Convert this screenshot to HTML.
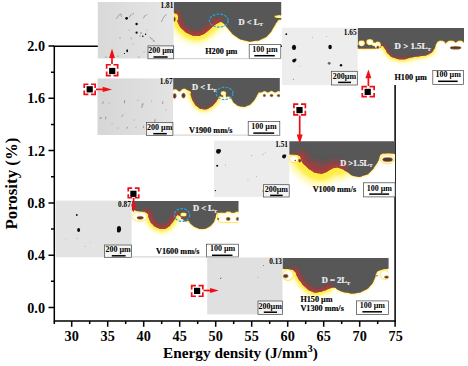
<!DOCTYPE html>
<html><head><meta charset="utf-8">
<style>
html,body{margin:0;padding:0;background:#fff;}
body{width:468px;height:366px;overflow:hidden;}
svg{display:block;}
text{font-family:"Liberation Serif",serif;font-weight:bold;fill:#000;}
.tk{font-size:14.2px;}
.ax{font-size:17.5px;}
.sm{font-size:7.5px;stroke:#000;stroke-width:.15px;}
.wt{font-size:8px;fill:#f2f2f2;stroke:#f2f2f2;stroke-width:.2px;}
</style></head>
<body>
<svg width="468" height="366" viewBox="0 0 468 366">
<defs>
<filter id="b1" filterUnits="userSpaceOnUse" x="0" y="0" width="468" height="366"><feGaussianBlur stdDeviation="1.6"/></filter>
<filter id="b2" filterUnits="userSpaceOnUse" x="0" y="0" width="468" height="366"><feGaussianBlur stdDeviation="1.0"/></filter>
<filter id="b3" filterUnits="userSpaceOnUse" x="0" y="0" width="468" height="366"><feGaussianBlur stdDeviation="0.5"/></filter>
<filter id="b4" filterUnits="userSpaceOnUse" x="0" y="0" width="468" height="366"><feGaussianBlur stdDeviation="2.4"/></filter>
<linearGradient id="gg1" x1="0" x2="1" y1="0" y2="0"><stop offset="0" stop-color="#d9d9d9"/><stop offset="1" stop-color="#e6e6e6"/></linearGradient>
<linearGradient id="gg2" x1="0" x2="1" y1="0" y2="0"><stop offset="0" stop-color="#d6d6d6"/><stop offset="1" stop-color="#e3e3e3"/></linearGradient>
<filter id="glow" filterUnits="userSpaceOnUse" x="0" y="0" width="468" height="366" color-interpolation-filters="sRGB">
<feGaussianBlur in="SourceAlpha" stdDeviation="0.8" result="ba"/>
<feComponentTransfer in="ba" result="oa"><feFuncA type="linear" slope="1.9" intercept="0"/></feComponentTransfer>
<feFlood flood-color="#ffec3d"/><feComposite in2="oa" operator="in" result="yg"/>
<feGaussianBlur in="SourceAlpha" stdDeviation="0.6" result="ba2"/>
<feComponentTransfer in="ba2" result="ia"><feFuncA type="linear" slope="-2.4" intercept="1.9"/></feComponentTransfer>
<feFlood flood-color="#c43a26"/><feComposite in2="ia" operator="in" result="rg0"/>
<feComposite in="rg0" in2="SourceAlpha" operator="in" result="rg"/>
<feMerge><feMergeNode in="yg"/><feMergeNode in="SourceGraphic"/><feMergeNode in="rg"/></feMerge>
</filter>
</defs>
<rect width="468" height="366" fill="#fff"/>

<!-- AXES -->
<g id="axes" stroke="#000" stroke-width="1.5" fill="none">
<path d="M54.3 46V321H395.8"/>
<path d="M53.6 46.2H395.1V321.7"/>
<!-- y major -->
<path d="M48.5 46H54.3M48.5 98.3H54.3M48.5 150.6H54.3M48.5 202.9H54.3M48.5 255.2H54.3M48.5 307.5H54.3"/>
<!-- y minor -->
<path d="M51 72.2H54.3M51 124.5H54.3M51 176.8H54.3M51 229H54.3M51 281.3H54.3"/>
<!-- x major -->
<path d="M71.7 321V326.8M107.7 321V326.8M143.7 321V326.8M179.7 321V326.8M215.7 321V326.8M251.7 321V326.8M287.7 321V326.8M323.7 321V326.8M359.7 321V326.8M395.1 321V326.8"/>
<!-- x minor -->
<path d="M54.3 321V324M89.7 321V324M125.7 321V324M161.7 321V324M197.7 321V324M233.7 321V324M269.7 321V324M305.7 321V324M341.7 321V324M377.7 321V324"/>
</g>
<g class="tk" text-anchor="end">
<text x="45" y="51">2.0</text><text x="45" y="103.3">1.6</text><text x="45" y="155.6">1.2</text><text x="45" y="207.9">0.8</text><text x="45" y="260.2">0.4</text><text x="45" y="312.5">0.0</text>
</g>
<g class="tk" text-anchor="middle">
<text x="71.7" y="341.3">30</text><text x="107.7" y="341.3">35</text><text x="143.7" y="341.3">40</text><text x="179.7" y="341.3">45</text><text x="215.7" y="341.3">50</text><text x="251.7" y="341.3">55</text><text x="287.7" y="341.3">60</text><text x="323.7" y="341.3">65</text><text x="359.7" y="341.3">70</text><text x="395.7" y="341.3">75</text>
</g>
<text class="ax" text-anchor="middle" style="font-size:16.3px" transform="translate(16.6 183.6) rotate(-90) scale(1.035 1)">Porosity (%)</text>
<text class="ax" style="font-size:15.3px" x="163" y="357.6">Energy density (J/mm<tspan dy="-5.5" font-size="10.5">3</tspan><tspan dy="5.5">)</tspan></text>

<clipPath id="c1"><rect x="173.6" y="1.9" width="107.6" height="56.6"/></clipPath>
<mask id="m1" maskUnits="userSpaceOnUse" x="167.6" y="-4.1" width="119.6" height="68.6"><path d="M169.0 12.8C170.5 12.9 171.2 12.1 173.6 13.0C176.0 13.9 174.9 12.5 176.3 15.5C177.7 18.5 175.5 17.2 177.7 21.9C179.9 26.6 179.0 25.6 182.9 29.6C186.8 33.6 185.0 32.0 189.3 34.0C193.6 36.0 191.5 35.5 195.7 35.7C199.9 35.9 197.7 36.5 202.0 34.7C206.3 32.9 204.7 33.2 208.6 30.2C212.5 27.2 210.5 28.1 213.7 25.7C216.9 23.3 215.8 24.1 218.2 22.9C220.6 21.7 218.9 21.8 220.8 22.1C222.7 22.4 221.5 21.5 224.0 23.8C226.5 26.1 224.4 24.7 228.4 29.0C232.4 33.3 230.5 32.8 236.0 36.6C241.5 40.4 239.0 39.0 245.0 40.5C251.0 42.0 248.0 41.7 254.0 41.0C260.0 40.3 257.8 41.0 263.0 38.5C268.2 36.0 266.0 37.0 269.5 33.4C273.0 29.8 271.1 31.2 273.4 27.6C275.7 24.0 274.8 25.0 276.5 22.5C278.2 20.0 277.5 21.0 278.5 20.0C279.5 19.0 278.0 19.7 279.5 19.5C281.0 19.3 281.8 19.5 283.0 19.5L285.2 -2.1L169.6 -2.1Z" fill="#fff"/><ellipse cx="175.6" cy="17.6" rx="2.6" ry="4.2" fill="#000"/><ellipse cx="279.0" cy="16.6" rx="4.6" ry="1.5" fill="#000"/></mask>
<g clip-path="url(#c1)">
<rect x="173.6" y="1.9" width="107.6" height="56.6" fill="#fff"/>
<path d="M176.3 15.5C176.8 17.6 175.5 17.2 177.7 21.9C179.9 26.6 179.0 25.6 182.9 29.6C186.8 33.6 185.0 32.0 189.3 34.0C193.6 36.0 191.5 35.5 195.7 35.7C199.9 35.9 197.7 36.5 202.0 34.7C206.3 32.9 204.7 33.2 208.6 30.2C212.5 27.2 210.5 28.1 213.7 25.7C216.9 23.3 216.7 23.8 218.2 22.9" fill="none" stroke="#fff9a8" stroke-width="16.2" stroke-linecap="round" filter="url(#b4)"/>
<path d="M176.3 15.5C176.8 17.6 175.5 17.2 177.7 21.9C179.9 26.6 179.0 25.6 182.9 29.6C186.8 33.6 185.0 32.0 189.3 34.0C193.6 36.0 191.5 35.5 195.7 35.7C199.9 35.9 197.7 36.5 202.0 34.7C206.3 32.9 204.7 33.2 208.6 30.2C212.5 27.2 210.5 28.1 213.7 25.7C216.9 23.3 216.7 23.8 218.2 22.9" fill="none" stroke="#ffee45" stroke-width="9" stroke-linecap="round" filter="url(#b1)"/>

<g filter="url(#glow)"><rect x="167.6" y="-4.1" width="119.6" height="68.6" fill="#575757" mask="url(#m1)"/></g>
<g mask="url(#m1)">
<path d="M176.3 15.5C176.8 17.6 175.5 17.2 177.7 21.9C179.9 26.6 179.0 25.6 182.9 29.6C186.8 33.6 185.0 32.0 189.3 34.0C193.6 36.0 191.5 35.5 195.7 35.7C199.9 35.9 197.7 36.5 202.0 34.7C206.3 32.9 204.7 33.2 208.6 30.2C212.5 27.2 210.5 28.1 213.7 25.7C216.9 23.3 216.7 23.8 218.2 22.9" fill="none" stroke="#9a4040" stroke-opacity=".8" stroke-width="10.4" stroke-linecap="round" filter="url(#b1)"/>
<path d="M176.3 15.5C176.8 17.6 175.5 17.2 177.7 21.9C179.9 26.6 179.0 25.6 182.9 29.6C186.8 33.6 185.0 32.0 189.3 34.0C193.6 36.0 191.5 35.5 195.7 35.7C199.9 35.9 197.7 36.5 202.0 34.7C206.3 32.9 204.7 33.2 208.6 30.2C212.5 27.2 210.5 28.1 213.7 25.7C216.9 23.3 216.7 23.8 218.2 22.9" fill="none" stroke="#b03a3a" stroke-width="4.4" stroke-linecap="round" filter="url(#b2)"/>

</g>
<ellipse cx="174.2" cy="19.2" rx="1.2" ry="2.2" fill="#4a3a38" stroke="#c9782c" stroke-width=".6"/>

</g>
<rect x="97.8" y="2.0" width="75.9" height="56.5" fill="url(#gg1)"/>
<circle cx="126.6" cy="18.3" r="1.40" fill="#0c0c0c"/>
<circle cx="136.6" cy="24.0" r="1.20" fill="#0c0c0c"/>
<circle cx="136.6" cy="32.7" r="1.10" fill="#0c0c0c"/>
<circle cx="142.8" cy="36.3" r="0.80" fill="#0c0c0c"/>
<circle cx="145.6" cy="34.3" r="0.70" fill="#0c0c0c"/>
<ellipse cx="127.2" cy="50.8" rx="0.90" ry="1.50" fill="#0c0c0c"/>
<circle cx="124.5" cy="53.5" r="0.60" fill="#0c0c0c"/>
<circle cx="141.0" cy="33.0" r="0.50" fill="#0c0c0c"/>
<circle cx="152.0" cy="39.0" r="0.50" fill="#3a3a3a" fill-opacity=".75"/>
<circle cx="154.0" cy="41.0" r="0.50" fill="#3a3a3a" fill-opacity=".75"/>
<circle cx="140.0" cy="36.0" r="0.50" fill="#3a3a3a" fill-opacity=".75"/>
<circle cx="120.0" cy="38.0" r="0.50" fill="#3a3a3a" fill-opacity=".75"/>
<circle cx="139.0" cy="57.0" r="0.50" fill="#3a3a3a" fill-opacity=".75"/>
<circle cx="106.0" cy="57.0" r="0.50" fill="#3a3a3a" fill-opacity=".75"/>
<circle cx="133.0" cy="44.0" r="0.40" fill="#3a3a3a" fill-opacity=".75"/>
<circle cx="147.0" cy="30.0" r="0.40" fill="#3a3a3a" fill-opacity=".75"/>
<circle cx="129.0" cy="30.0" r="0.40" fill="#3a3a3a" fill-opacity=".75"/>
<circle cx="118.0" cy="56.0" r="0.50" fill="#3a3a3a" fill-opacity=".75"/>
<circle cx="144.0" cy="52.0" r="0.40" fill="#3a3a3a" fill-opacity=".75"/>
<path d="M116.5 18.5l1.5 -2.0M118.5 15.5l2.0 -1.5M121.0 14.5l0.5 2.0M129.5 17.0l1.2 -2.0M132.0 14.5l1.6 -1.0M143.5 18.0l1.4 -2.4M146.0 15.5l1.0 -1.0M161.5 21.5l1.0 -2.0M163.0 18.5l1.6 -2.6M165.5 15.5l0.8 -1.0M150.0 37.0l1.0 1.6M153.0 40.0l0.8 1.2M131.0 38.0l0.5 0.8" stroke="#3c3c3c" stroke-opacity=".6" stroke-width=".7" stroke-linecap="round" fill="none"/>
<text text-anchor="end" style="font-size:7.3px" x="173.3" y="7.9">1.81</text>
<rect x="148.0" y="45.9" width="25.7" height="12.9" fill="#f4f4f4" stroke="#444" stroke-width=".7"/>
<text text-anchor="middle" style="font-size:8px" x="160.8" y="53.2">200 µm</text>
<path d="M153.5 57.0H167.6" stroke="#000" stroke-width="1.5"/>
<text class="wt" style="font-size:8.5px" x="238.5" y="24.8">D &lt; L<tspan dy="1.5" font-size="5">T</tspan></text>
<text class="sm" style="font-size:8.2px" x="205.2" y="53.5">H200 µm</text>
<rect x="249.2" y="44.4" width="31.6" height="14.1" fill="#fff" stroke="#444" stroke-width=".7"/>
<text text-anchor="middle" style="font-size:8px" x="265.0" y="52.0">100 µm</text>
<path d="M254.3 55.7H274.8" stroke="#000" stroke-width="1.5"/>
<ellipse cx="218.8" cy="20.6" rx="9.4" ry="6.5" fill="none" stroke="#22a4dc" stroke-width="1.2" stroke-dasharray="2.6 1.3" transform="rotate(0 218.8 20.6)"/>
<clipPath id="c2"><rect x="173.2" y="78.0" width="106.6" height="57.0"/></clipPath>
<mask id="m2" maskUnits="userSpaceOnUse" x="167.2" y="72.0" width="118.6" height="69.0"><path d="M169.0 91.0C170.4 91.0 169.2 90.9 173.2 91.0C177.2 91.1 175.6 91.3 181.0 91.2C186.4 91.1 185.9 89.0 189.3 90.8C192.7 92.6 189.7 92.8 191.2 96.6C192.7 100.4 191.7 98.9 193.8 102.3C195.9 105.7 194.4 104.5 197.6 106.8C200.8 109.1 199.3 109.0 203.4 109.2C207.5 109.4 205.9 109.6 209.8 107.5C213.7 105.4 212.2 106.0 215.0 103.0C217.8 100.0 216.5 100.7 218.2 98.5C219.9 96.3 217.9 96.7 220.0 96.3C222.1 95.9 221.6 97.3 224.6 97.4C227.6 97.5 226.7 95.9 229.0 96.5C231.3 97.1 229.6 96.7 231.6 99.1C233.6 101.5 231.7 101.1 234.9 103.6C238.1 106.1 237.0 105.9 241.3 106.6C245.6 107.3 243.9 107.2 247.7 105.6C251.5 104.0 250.0 104.5 252.8 101.7C255.6 98.9 254.1 100.2 256.0 97.2C257.9 94.2 257.1 94.3 258.6 92.7C260.1 91.1 256.7 92.4 260.5 92.3C264.3 92.2 262.2 92.3 270.0 92.3C277.8 92.3 279.3 92.3 284.0 92.3L283.8 74.0L169.2 74.0Z" fill="#fff"/><ellipse cx="175.2" cy="95.6" rx="4.6" ry="6.6" fill="#000"/><ellipse cx="184.2" cy="95.2" rx="4.8" ry="6.8" fill="#000"/><ellipse cx="223.4" cy="93.3" rx="2.7" ry="2.4" fill="#000"/><ellipse cx="224.6" cy="96.2" rx="1.5" ry="2.6" fill="#000"/><ellipse cx="264.5" cy="96.0" rx="3.6" ry="5.0" fill="#000"/><ellipse cx="271.5" cy="96.0" rx="3.6" ry="5.2" fill="#000"/><ellipse cx="278.5" cy="96.0" rx="3.4" ry="5.0" fill="#000"/></mask>
<g clip-path="url(#c2)">
<rect x="173.2" y="78.0" width="106.6" height="57.0" fill="#fff"/>
<path d="M189.3 90.8C189.9 92.7 189.7 92.8 191.2 96.6C192.7 100.4 191.7 98.9 193.8 102.3C195.9 105.7 194.4 104.5 197.6 106.8C200.8 109.1 199.3 109.0 203.4 109.2C207.5 109.4 205.9 109.6 209.8 107.5C213.7 105.4 212.2 106.0 215.0 103.0C217.8 100.0 217.1 100.0 218.2 98.5" fill="none" stroke="#fff9a8" stroke-width="5.4" stroke-linecap="round" filter="url(#b4)"/>
<path d="M189.3 90.8C189.9 92.7 189.7 92.8 191.2 96.6C192.7 100.4 191.7 98.9 193.8 102.3C195.9 105.7 194.4 104.5 197.6 106.8C200.8 109.1 199.3 109.0 203.4 109.2C207.5 109.4 205.9 109.6 209.8 107.5C213.7 105.4 212.2 106.0 215.0 103.0C217.8 100.0 217.1 100.0 218.2 98.5" fill="none" stroke="#ffee45" stroke-width="3" stroke-linecap="round" filter="url(#b1)"/>

<g filter="url(#glow)"><rect x="167.2" y="72.0" width="118.6" height="69.0" fill="#575757" mask="url(#m2)"/></g>
<g mask="url(#m2)">
<path d="M189.3 90.8C189.9 92.7 189.7 92.8 191.2 96.6C192.7 100.4 191.7 98.9 193.8 102.3C195.9 105.7 194.4 104.5 197.6 106.8C200.8 109.1 199.3 109.0 203.4 109.2C207.5 109.4 205.9 109.6 209.8 107.5C213.7 105.4 212.2 106.0 215.0 103.0C217.8 100.0 217.1 100.0 218.2 98.5" fill="none" stroke="#9a4040" stroke-opacity=".8" stroke-width="2.6" stroke-linecap="round" filter="url(#b1)"/>
<path d="M189.3 90.8C189.9 92.7 189.7 92.8 191.2 96.6C192.7 100.4 191.7 98.9 193.8 102.3C195.9 105.7 194.4 104.5 197.6 106.8C200.8 109.1 199.3 109.0 203.4 109.2C207.5 109.4 205.9 109.6 209.8 107.5C213.7 105.4 212.2 106.0 215.0 103.0C217.8 100.0 217.1 100.0 218.2 98.5" fill="none" stroke="#b03a3a" stroke-width="1.1" stroke-linecap="round" filter="url(#b2)"/>

</g>
<ellipse cx="174.6" cy="96.0" rx="1.7" ry="2.4" fill="#4a3a38" stroke="#c9782c" stroke-width=".6"/>
<ellipse cx="183.5" cy="95.6" rx="1.8" ry="2.5" fill="#4a3a38" stroke="#c9782c" stroke-width=".6"/>
<ellipse cx="264.4" cy="95.5" rx="1.2" ry="1.2" fill="#4a3a38" stroke="#c9782c" stroke-width=".6"/>
<ellipse cx="271.5" cy="95.5" rx="1.5" ry="1.2" fill="#4a3a38" stroke="#c9782c" stroke-width=".6"/>
<ellipse cx="278.8" cy="95.6" rx="1.6" ry="1.2" fill="#4a3a38" stroke="#c9782c" stroke-width=".6"/>

</g>
<rect x="97.5" y="78.4" width="75.5" height="56.6" fill="url(#gg2)"/>
<circle cx="151.5" cy="101.0" r="0.40" fill="#3a3a3a" fill-opacity=".75"/>
<circle cx="109.0" cy="103.0" r="0.40" fill="#3a3a3a" fill-opacity=".75"/>
<circle cx="138.0" cy="100.0" r="0.40" fill="#3a3a3a" fill-opacity=".75"/>
<circle cx="134.0" cy="120.0" r="0.40" fill="#3a3a3a" fill-opacity=".75"/>
<circle cx="112.0" cy="124.0" r="0.40" fill="#3a3a3a" fill-opacity=".75"/>
<circle cx="118.0" cy="128.0" r="0.40" fill="#3a3a3a" fill-opacity=".75"/>
<circle cx="150.0" cy="130.0" r="0.40" fill="#3a3a3a" fill-opacity=".75"/>
<circle cx="136.0" cy="127.0" r="0.40" fill="#3a3a3a" fill-opacity=".75"/>
<circle cx="166.0" cy="110.0" r="0.40" fill="#3a3a3a" fill-opacity=".75"/>
<circle cx="100.0" cy="118.0" r="0.40" fill="#3a3a3a" fill-opacity=".75"/>
<path d="M124.6 100.6l-0.2 2.4M142.2 104.6l-0.3 2.8M142.9 103.5l0.0 1.0M162.9 101.6l-0.3 2.0M103.3 101.8l-0.6 1.6M122.8 115.0l-0.8 1.2M105.8 117.0l-0.2 1.8M155.2 119.6l-0.5 2.2M143.5 126.2l-0.2 1.4M127.3 127.2l-0.3 1.2M101.0 117.5l0.0 1.0" stroke="#3c3c3c" stroke-opacity=".6" stroke-width=".7" stroke-linecap="round" fill="none"/>
<text text-anchor="end" style="font-size:7.3px" x="172.6" y="84.0">1.67</text>
<rect x="146.5" y="122.6" width="26.4" height="12.8" fill="#f4f4f4" stroke="#444" stroke-width=".7"/>
<text text-anchor="middle" style="font-size:8px" x="159.7" y="130.3">200 µm</text>
<path d="M153.3 133.7H166.8" stroke="#000" stroke-width="1.5"/>
<text class="wt" style="font-size:8.5px" x="192.1" y="90.4">D &lt; L<tspan dy="1.5" font-size="5">T</tspan></text>
<text class="sm" style="font-size:8.2px" x="189.0" y="132.7">V1900 mm/s</text>
<rect x="248.2" y="121.5" width="31.6" height="13.9" fill="#fff" stroke="#444" stroke-width=".7"/>
<text text-anchor="middle" style="font-size:8px" x="264.0" y="129.2">100 µm</text>
<path d="M253.3 133.1H274.2" stroke="#000" stroke-width="1.5"/>
<ellipse cx="224.6" cy="93.4" rx="8.4" ry="6.2" fill="none" stroke="#22a4dc" stroke-width="1.2" stroke-dasharray="2.6 1.3" transform="rotate(0 224.6 93.4)"/>
<clipPath id="c3"><rect x="357.6" y="27.9" width="106.4" height="57.1"/></clipPath>
<mask id="m3" maskUnits="userSpaceOnUse" x="351.6" y="21.9" width="118.4" height="69.1"><path d="M353.0 48.6C354.5 48.6 351.9 48.6 357.6 48.6C363.3 48.6 362.9 48.8 370.0 48.6C377.1 48.4 375.1 48.9 379.0 48.0C382.9 47.1 379.9 45.9 381.8 46.0C383.7 46.1 382.5 45.7 384.8 48.4C387.1 51.1 385.3 51.0 388.7 54.2C392.1 57.4 390.4 56.3 395.1 58.0C399.8 59.7 398.5 59.2 402.8 59.3C407.1 59.4 404.3 59.0 408.0 58.2C411.7 57.4 409.7 57.7 414.0 57.0C418.3 56.3 416.0 57.0 420.9 56.1C425.8 55.2 424.3 56.3 428.6 54.2C432.9 52.1 431.4 52.7 433.7 49.7C436.0 46.7 434.7 47.1 435.6 45.2C436.5 43.3 435.0 44.2 436.5 44.0C438.0 43.8 435.5 44.2 440.0 44.5C444.5 44.8 440.7 44.8 450.0 45.0C459.3 45.2 462.0 45.0 468.0 45.0L468.0 23.9L353.6 23.9Z" fill="#fff"/><ellipse cx="361.6" cy="43.2" rx="3.3" ry="3.0" fill="#000"/><ellipse cx="369.8" cy="42.1" rx="3.6" ry="3.1" fill="#000"/><ellipse cx="374.0" cy="44.3" rx="2.4" ry="2.0" fill="#000"/><ellipse cx="377.8" cy="45.2" rx="3.2" ry="3.6" fill="#000"/><ellipse cx="441.0" cy="45.0" rx="5.0" ry="4.6" fill="#000"/><ellipse cx="451.0" cy="45.5" rx="6.0" ry="5.0" fill="#000"/><ellipse cx="460.0" cy="45.5" rx="5.0" ry="5.0" fill="#000"/></mask>
<g clip-path="url(#c3)">
<rect x="357.6" y="27.9" width="106.4" height="57.1" fill="#fff"/>
<path d="M381.8 46.0C382.8 46.8 382.5 45.7 384.8 48.4C387.1 51.1 385.3 51.0 388.7 54.2C392.1 57.4 390.4 56.3 395.1 58.0C399.8 59.7 398.5 59.2 402.8 59.3C407.1 59.4 406.3 58.6 408.0 58.2" fill="none" stroke="#fff9a8" stroke-width="6.3" stroke-linecap="round" filter="url(#b4)"/>
<path d="M381.8 46.0C382.8 46.8 382.5 45.7 384.8 48.4C387.1 51.1 385.3 51.0 388.7 54.2C392.1 57.4 390.4 56.3 395.1 58.0C399.8 59.7 398.5 59.2 402.8 59.3C407.1 59.4 406.3 58.6 408.0 58.2" fill="none" stroke="#ffee45" stroke-width="3.5" stroke-linecap="round" filter="url(#b1)"/>
<path d="M408.0 58.2C410.0 57.8 409.7 57.7 414.0 57.0C418.3 56.3 416.0 57.0 420.9 56.1C425.8 55.2 424.3 56.3 428.6 54.2C432.9 52.1 432.0 51.2 433.7 49.7" fill="none" stroke="#fff9a8" stroke-width="5.4" stroke-linecap="round" filter="url(#b4)"/>
<path d="M408.0 58.2C410.0 57.8 409.7 57.7 414.0 57.0C418.3 56.3 416.0 57.0 420.9 56.1C425.8 55.2 424.3 56.3 428.6 54.2C432.9 52.1 432.0 51.2 433.7 49.7" fill="none" stroke="#ffee45" stroke-width="3" stroke-linecap="round" filter="url(#b1)"/>

<g filter="url(#glow)"><rect x="351.6" y="21.9" width="118.4" height="69.1" fill="#575757" mask="url(#m3)"/></g>
<g mask="url(#m3)">
<path d="M381.8 46.0C382.8 46.8 382.5 45.7 384.8 48.4C387.1 51.1 385.3 51.0 388.7 54.2C392.1 57.4 390.4 56.3 395.1 58.0C399.8 59.7 398.5 59.2 402.8 59.3C407.1 59.4 406.3 58.6 408.0 58.2" fill="none" stroke="#9a4040" stroke-opacity=".8" stroke-width="3.9000000000000004" stroke-linecap="round" filter="url(#b1)"/>
<path d="M381.8 46.0C382.8 46.8 382.5 45.7 384.8 48.4C387.1 51.1 385.3 51.0 388.7 54.2C392.1 57.4 390.4 56.3 395.1 58.0C399.8 59.7 398.5 59.2 402.8 59.3C407.1 59.4 406.3 58.6 408.0 58.2" fill="none" stroke="#b03a3a" stroke-width="1.6500000000000001" stroke-linecap="round" filter="url(#b2)"/>
<path d="M408.0 58.2C410.0 57.8 409.7 57.7 414.0 57.0C418.3 56.3 416.0 57.0 420.9 56.1C425.8 55.2 424.3 56.3 428.6 54.2C432.9 52.1 432.0 51.2 433.7 49.7" fill="none" stroke="#9a4040" stroke-opacity=".8" stroke-width="1.56" stroke-linecap="round" filter="url(#b1)"/>
<path d="M408.0 58.2C410.0 57.8 409.7 57.7 414.0 57.0C418.3 56.3 416.0 57.0 420.9 56.1C425.8 55.2 424.3 56.3 428.6 54.2C432.9 52.1 432.0 51.2 433.7 49.7" fill="none" stroke="#b03a3a" stroke-width="0.66" stroke-linecap="round" filter="url(#b2)"/>

</g>
<ellipse cx="455.6" cy="47.8" rx="5.6" ry="1.5" fill="#4a3a38" stroke="#c9782c" stroke-width=".6"/>
<ellipse cx="377.9" cy="47.2" rx="1.2" ry="1.3" fill="#4a3a38" stroke="#c9782c" stroke-width=".6"/>

</g>
<rect x="282.0" y="27.7" width="75.6" height="57.3" fill="#ededed"/>
<ellipse cx="294.0" cy="47.4" rx="2.10" ry="2.60" fill="#0c0c0c"/>
<ellipse cx="330.1" cy="47.0" rx="1.80" ry="2.30" fill="#0c0c0c"/>
<circle cx="294.0" cy="60.7" r="1.80" fill="#0c0c0c"/>
<circle cx="295.3" cy="59.8" r="1.20" fill="#0c0c0c"/>
<circle cx="341.0" cy="65.3" r="1.20" fill="#0c0c0c"/>
<circle cx="286.3" cy="34.2" r="0.90" fill="#0c0c0c"/>
<circle cx="329.2" cy="63.3" r="1.40" fill="#3a3a3a" fill-opacity=".75"/>
<circle cx="312.5" cy="37.6" r="0.40" fill="#3a3a3a" fill-opacity=".75"/>
<circle cx="293.3" cy="79.3" r="0.50" fill="#3a3a3a" fill-opacity=".75"/>
<circle cx="326.5" cy="36.3" r="0.40" fill="#3a3a3a" fill-opacity=".75"/>
<circle cx="300.0" cy="66.0" r="0.30" fill="#3a3a3a" fill-opacity=".75"/>
<text text-anchor="end" style="font-size:7.3px" x="356.6" y="34.5">1.65</text>
<rect x="331.6" y="71.3" width="25.7" height="13.7" fill="#f4f4f4" stroke="#444" stroke-width=".7"/>
<text text-anchor="middle" style="font-size:8px" x="344.5" y="79.0">200µm</text>
<path d="M338.1 82.4H351.0" stroke="#000" stroke-width="1.5"/>
<text class="wt" style="font-size:8.9px" x="394.5" y="49.4">D &gt; 1.5L<tspan dy="1.5" font-size="5">T</tspan></text>
<text class="sm" style="font-size:8.2px" x="394.5" y="80.2">H100 µm</text>
<rect x="432.8" y="70.5" width="30.8" height="14.0" fill="#fff" stroke="#444" stroke-width=".7"/>
<text text-anchor="middle" style="font-size:8px" x="448.2" y="77.4">100 µm</text>
<path d="M438.0 81.3H457.7" stroke="#000" stroke-width="1.5"/>
<clipPath id="c4"><rect x="289.2" y="141.2" width="105.8" height="55.8"/></clipPath>
<mask id="m4" maskUnits="userSpaceOnUse" x="283.2" y="135.2" width="117.8" height="67.8"><path d="M285.0 154.5C286.4 154.5 285.9 154.4 289.2 154.5C292.5 154.6 291.7 154.4 295.0 154.8C298.3 155.2 297.1 154.7 299.0 155.8C300.9 156.9 299.8 156.0 300.8 158.0C301.8 160.0 300.5 159.3 302.0 161.8C303.5 164.3 302.1 162.6 305.3 165.6C308.5 168.6 307.4 168.2 311.7 170.8C316.0 173.4 313.8 172.7 318.1 173.3C322.4 173.9 320.7 173.8 324.6 172.7C328.5 171.6 326.3 171.7 329.7 170.1C333.1 168.5 331.4 168.4 334.8 167.8C338.2 167.2 336.1 167.0 340.0 168.2C343.9 169.4 341.3 168.7 346.4 171.4C351.5 174.1 349.4 175.0 355.4 176.3C361.4 177.6 359.3 176.9 364.4 175.3C369.5 173.7 367.2 174.6 370.8 171.4C374.4 168.2 372.7 169.4 375.3 165.6C377.9 161.8 377.2 162.9 378.6 159.9C380.0 156.9 378.6 158.4 379.6 156.5C380.6 154.6 379.7 155.2 381.5 154.2C383.3 153.2 381.7 153.7 385.0 153.5C388.3 153.3 388.1 153.3 391.4 153.5C394.7 153.7 392.5 153.8 395.0 154.0C397.5 154.2 397.7 154.0 399.0 154.0L399.0 137.2L285.2 137.2Z" fill="#fff"/></mask>
<g clip-path="url(#c4)">
<rect x="289.2" y="141.2" width="105.8" height="55.8" fill="#fff"/>
<path d="M300.8 158.0C301.2 159.3 300.5 159.3 302.0 161.8C303.5 164.3 302.1 162.6 305.3 165.6C308.5 168.6 307.4 168.2 311.7 170.8C316.0 173.4 313.8 172.7 318.1 173.3C322.4 173.9 320.7 173.8 324.6 172.7C328.5 171.6 326.3 171.7 329.7 170.1C333.1 168.5 331.4 168.4 334.8 167.8C338.2 167.2 338.3 168.1 340.0 168.2" fill="none" stroke="#fff9a8" stroke-width="25.2" stroke-linecap="round" filter="url(#b4)"/>
<path d="M300.8 158.0C301.2 159.3 300.5 159.3 302.0 161.8C303.5 164.3 302.1 162.6 305.3 165.6C308.5 168.6 307.4 168.2 311.7 170.8C316.0 173.4 313.8 172.7 318.1 173.3C322.4 173.9 320.7 173.8 324.6 172.7C328.5 171.6 326.3 171.7 329.7 170.1C333.1 168.5 331.4 168.4 334.8 167.8C338.2 167.2 338.3 168.1 340.0 168.2" fill="none" stroke="#ffee45" stroke-width="14" stroke-linecap="round" filter="url(#b1)"/>
<ellipse cx="387.5" cy="159.3" rx="7" ry="4.6" fill="#fffef4" stroke="#ffe44a" stroke-width="1" filter="url(#b3)"/><ellipse cx="294" cy="159" rx="4.5" ry="3.5" fill="#fffef4" stroke="#ffe44a" stroke-width="1" filter="url(#b3)"/>
<g filter="url(#glow)"><rect x="283.2" y="135.2" width="117.8" height="67.8" fill="#575757" mask="url(#m4)"/></g>
<g mask="url(#m4)">
<path d="M300.8 158.0C301.2 159.3 300.5 159.3 302.0 161.8C303.5 164.3 302.1 162.6 305.3 165.6C308.5 168.6 307.4 168.2 311.7 170.8C316.0 173.4 313.8 172.7 318.1 173.3C322.4 173.9 320.7 173.8 324.6 172.7C328.5 171.6 326.3 171.7 329.7 170.1C333.1 168.5 331.4 168.4 334.8 167.8C338.2 167.2 338.3 168.1 340.0 168.2" fill="none" stroke="#9a4040" stroke-opacity=".8" stroke-width="15.600000000000001" stroke-linecap="round" filter="url(#b4)"/>
<path d="M300.8 158.0C301.2 159.3 300.5 159.3 302.0 161.8C303.5 164.3 302.1 162.6 305.3 165.6C308.5 168.6 307.4 168.2 311.7 170.8C316.0 173.4 313.8 172.7 318.1 173.3C322.4 173.9 320.7 173.8 324.6 172.7C328.5 171.6 326.3 171.7 329.7 170.1C333.1 168.5 331.4 168.4 334.8 167.8C338.2 167.2 338.3 168.1 340.0 168.2" fill="none" stroke="#b03a3a" stroke-width="6.6000000000000005" stroke-linecap="round" filter="url(#b2)"/>
<ellipse cx="315" cy="165.5" rx="9" ry="5" fill="#a04040" fill-opacity=".55" filter="url(#b4)"/>
</g>
<ellipse cx="387.6" cy="159.6" rx="5.0" ry="2.2" fill="#4a3a38" stroke="#c9782c" stroke-width=".6"/>
<ellipse cx="299.8" cy="160.6" rx="1.4" ry="1.7" fill="#4a3a38" stroke="#c9782c" stroke-width=".6"/>
<circle cx="295.3" cy="160.5" r=".8" fill="#c0392b"/>
</g>
<rect x="214.0" y="140.8" width="75.2" height="56.2" fill="#ececec"/>
<circle cx="218.3" cy="151.4" r="2.30" fill="#0c0c0c"/>
<circle cx="219.6" cy="150.6" r="1.40" fill="#0c0c0c"/>
<circle cx="284.0" cy="156.5" r="1.90" fill="#0c0c0c"/>
<circle cx="285.0" cy="155.6" r="1.20" fill="#0c0c0c"/>
<circle cx="217.2" cy="165.8" r="1.05" fill="#0c0c0c"/>
<circle cx="215.4" cy="190.6" r="0.70" fill="#0c0c0c"/>
<circle cx="251.7" cy="155.4" r="0.45" fill="#3a3a3a" fill-opacity=".75"/>
<circle cx="263.0" cy="154.2" r="0.45" fill="#3a3a3a" fill-opacity=".75"/>
<circle cx="265.3" cy="152.8" r="0.40" fill="#3a3a3a" fill-opacity=".75"/>
<circle cx="225.3" cy="165.0" r="0.40" fill="#3a3a3a" fill-opacity=".75"/>
<circle cx="248.0" cy="179.3" r="0.40" fill="#3a3a3a" fill-opacity=".75"/>
<circle cx="256.3" cy="176.6" r="0.40" fill="#3a3a3a" fill-opacity=".75"/>
<circle cx="262.6" cy="191.0" r="0.50" fill="#3a3a3a" fill-opacity=".75"/>
<text text-anchor="end" style="font-size:7.3px" x="288.0" y="146.6">1.51</text>
<rect x="263.5" y="184.7" width="25.7" height="12.3" fill="#f4f4f4" stroke="#444" stroke-width=".7"/>
<text text-anchor="middle" style="font-size:8px" x="276.4" y="192.0">200µm</text>
<path d="M270.1 195.4H282.7" stroke="#000" stroke-width="1.5"/>
<text class="wt" style="font-size:8.4px" x="340.2" y="165.9">D &gt;1.5L<tspan dy="1.5" font-size="5">T</tspan></text>
<text class="sm" style="font-size:8.2px" x="312.7" y="192.4">V1000 mm/s</text>
<rect x="363.5" y="182.8" width="31.6" height="14.1" fill="#fff" stroke="#444" stroke-width=".7"/>
<text text-anchor="middle" style="font-size:8px" x="379.3" y="190.5">100 µm</text>
<path d="M369.2 194.1H389.1" stroke="#000" stroke-width="1.5"/>
<clipPath id="c5"><rect x="131.6" y="200.9" width="106.9" height="56.5"/></clipPath>
<mask id="m5" maskUnits="userSpaceOnUse" x="125.6" y="194.9" width="118.9" height="68.5"><path d="M127.0 210.8C128.5 210.8 127.3 210.5 131.6 210.8C135.9 211.1 134.9 210.9 140.0 211.6C145.1 212.3 143.7 210.6 146.8 213.0C149.9 215.4 147.3 215.2 149.2 218.9C151.1 222.6 149.6 221.0 152.4 224.0C155.2 227.0 154.2 226.2 157.6 227.8C161.0 229.4 159.3 229.1 162.7 228.9C166.1 228.7 164.8 229.1 167.8 227.2C170.8 225.3 169.3 226.1 171.7 223.3C174.1 220.5 173.4 221.1 174.9 218.8C176.4 216.5 174.8 217.4 176.2 216.3C177.6 215.2 176.7 214.4 179.0 215.5C181.3 216.6 180.7 217.6 183.0 219.5C185.3 221.4 184.2 220.9 186.0 221.3C187.8 221.7 186.5 219.7 188.4 220.8C190.3 221.9 188.8 222.3 191.6 224.6C194.4 226.9 193.1 226.4 196.7 227.8C200.3 229.2 198.6 229.1 202.5 228.9C206.4 228.7 204.9 229.1 208.3 227.2C211.7 225.3 210.5 226.3 212.8 223.3C215.1 220.3 214.0 221.4 215.3 218.2C216.6 215.0 215.5 215.5 216.6 213.7C217.7 211.9 214.0 213.1 218.5 212.8C223.0 212.5 221.8 212.8 230.0 212.8C238.2 212.8 238.7 212.8 243.0 212.8L242.5 196.9L127.6 196.9Z" fill="#fff"/><ellipse cx="134.0" cy="213.5" rx="2.6" ry="3.6" fill="#000"/><ellipse cx="141.0" cy="215.0" rx="4.5" ry="3.6" fill="#000"/><ellipse cx="183.5" cy="214.6" rx="3.2" ry="2.0" fill="#000"/><ellipse cx="221.5" cy="216.0" rx="2.6" ry="3.6" fill="#000"/><ellipse cx="228.5" cy="216.0" rx="4.0" ry="4.8" fill="#000"/><ellipse cx="237.0" cy="216.0" rx="3.0" ry="4.4" fill="#000"/></mask>
<g clip-path="url(#c5)">
<rect x="131.6" y="200.9" width="106.9" height="56.5" fill="#fff"/>
<path d="M146.8 213.0C147.6 215.0 147.3 215.2 149.2 218.9C151.1 222.6 149.6 221.0 152.4 224.0C155.2 227.0 154.2 226.2 157.6 227.8C161.0 229.4 159.3 229.1 162.7 228.9C166.1 228.7 164.8 229.1 167.8 227.2C170.8 225.3 169.3 226.1 171.7 223.3C174.1 220.5 173.4 221.1 174.9 218.8C176.4 216.5 175.8 217.1 176.2 216.3" fill="none" stroke="#fff9a8" stroke-width="9.0" stroke-linecap="round" filter="url(#b4)"/>
<path d="M146.8 213.0C147.6 215.0 147.3 215.2 149.2 218.9C151.1 222.6 149.6 221.0 152.4 224.0C155.2 227.0 154.2 226.2 157.6 227.8C161.0 229.4 159.3 229.1 162.7 228.9C166.1 228.7 164.8 229.1 167.8 227.2C170.8 225.3 169.3 226.1 171.7 223.3C174.1 220.5 173.4 221.1 174.9 218.8C176.4 216.5 175.8 217.1 176.2 216.3" fill="none" stroke="#ffee45" stroke-width="5" stroke-linecap="round" filter="url(#b1)"/>
<ellipse cx="139.5" cy="216.6" rx="7.6" ry="4.8" fill="#fffef6" stroke="#ffe85a" stroke-width="1" filter="url(#b3)"/><rect x="217.5" y="212" width="24" height="10.6" rx="4" fill="#fffef6" stroke="#ffe85a" stroke-width="1" filter="url(#b3)"/>
<g filter="url(#glow)"><rect x="125.6" y="194.9" width="118.9" height="68.5" fill="#575757" mask="url(#m5)"/></g>
<g mask="url(#m5)">
<path d="M146.8 213.0C147.6 215.0 147.3 215.2 149.2 218.9C151.1 222.6 149.6 221.0 152.4 224.0C155.2 227.0 154.2 226.2 157.6 227.8C161.0 229.4 159.3 229.1 162.7 228.9C166.1 228.7 164.8 229.1 167.8 227.2C170.8 225.3 169.3 226.1 171.7 223.3C174.1 220.5 173.4 221.1 174.9 218.8C176.4 216.5 175.8 217.1 176.2 216.3" fill="none" stroke="#9a4040" stroke-opacity=".8" stroke-width="9.1" stroke-linecap="round" filter="url(#b1)"/>
<path d="M146.8 213.0C147.6 215.0 147.3 215.2 149.2 218.9C151.1 222.6 149.6 221.0 152.4 224.0C155.2 227.0 154.2 226.2 157.6 227.8C161.0 229.4 159.3 229.1 162.7 228.9C166.1 228.7 164.8 229.1 167.8 227.2C170.8 225.3 169.3 226.1 171.7 223.3C174.1 220.5 173.4 221.1 174.9 218.8C176.4 216.5 175.8 217.1 176.2 216.3" fill="none" stroke="#b03a3a" stroke-width="3.8500000000000005" stroke-linecap="round" filter="url(#b2)"/>

</g>
<ellipse cx="140.2" cy="217.8" rx="3.2" ry="1.5" fill="#4a3a38" stroke="#c9782c" stroke-width=".6"/>
<ellipse cx="228.2" cy="218.9" rx="2.0" ry="1.6" fill="#4a3a38" stroke="#c9782c" stroke-width=".6"/>
<ellipse cx="237.8" cy="218.9" rx="1.6" ry="1.6" fill="#4a3a38" stroke="#c9782c" stroke-width=".6"/>
<ellipse cx="218.2" cy="218.9" rx="0.8" ry="0.9" fill="#4a3a38" stroke="#c9782c" stroke-width=".6"/>
<path d="M181 218.5q3 1 5.5-2.5" stroke="#c0392b" stroke-width="1" fill="none"/>
</g>
<rect x="55.5" y="200.6" width="76.1" height="56.7" fill="#e3e3e3"/>
<ellipse cx="78.6" cy="230.0" rx="1.50" ry="2.10" fill="#0c0c0c"/>
<ellipse cx="119.0" cy="228.9" rx="2.10" ry="3.00" fill="#0c0c0c"/>
<ellipse cx="118.6" cy="231.0" rx="1.70" ry="1.50" fill="#0c0c0c"/>
<circle cx="76.8" cy="215.0" r="0.90" fill="#0c0c0c"/>
<circle cx="77.2" cy="238.4" r="0.35" fill="#3a3a3a" fill-opacity=".75"/>
<circle cx="65.5" cy="239.0" r="0.35" fill="#3a3a3a" fill-opacity=".75"/>
<circle cx="85.2" cy="246.5" r="0.35" fill="#3a3a3a" fill-opacity=".75"/>
<circle cx="90.6" cy="242.0" r="0.30" fill="#3a3a3a" fill-opacity=".75"/>
<text text-anchor="end" style="font-size:7.3px" x="130.8" y="206.6">0.87</text>
<rect x="104.6" y="245.0" width="27.0" height="12.3" fill="#f4f4f4" stroke="#444" stroke-width=".7"/>
<text text-anchor="middle" style="font-size:8px" x="118.1" y="252.3">200 µm</text>
<path d="M111.8 255.8H125.6" stroke="#000" stroke-width="1.5"/>
<text class="wt" style="font-size:8.5px" x="192.9" y="211.0">D &lt; L<tspan dy="1.5" font-size="5">T</tspan></text>
<text class="sm" style="font-size:8.2px" x="156.0" y="253.5">V1600 mm/s</text>
<rect x="206.5" y="244.2" width="32.1" height="12.8" fill="#fff" stroke="#444" stroke-width=".7"/>
<text text-anchor="middle" style="font-size:8px" x="222.6" y="251.2">100 µm</text>
<path d="M212.0 255.3H232.5" stroke="#000" stroke-width="1.5"/>
<ellipse cx="182.0" cy="215.0" rx="7.7" ry="6.4" fill="none" stroke="#22a4dc" stroke-width="1.2" stroke-dasharray="2.6 1.3" transform="rotate(0 182.0 215.0)"/>
<clipPath id="c6"><rect x="282.5" y="258.1" width="106.1" height="56.3"/></clipPath>
<mask id="m6" maskUnits="userSpaceOnUse" x="276.5" y="252.1" width="118.1" height="68.3"><path d="M278.0 269.0C279.5 269.0 278.8 268.9 282.5 269.0C286.2 269.1 284.9 268.5 289.0 269.3C293.1 270.1 291.9 269.0 294.7 271.4C297.5 273.8 295.4 273.1 297.3 276.5C299.2 279.9 297.9 278.2 300.5 281.6C303.1 285.0 301.4 283.6 305.0 286.8C308.6 290.0 307.1 289.5 311.4 291.3C315.7 293.1 313.5 292.5 317.8 292.3C322.1 292.1 320.4 291.9 324.3 290.6C328.2 289.3 326.0 289.4 329.4 288.4C332.8 287.4 331.6 287.2 334.6 287.7C337.6 288.2 334.6 288.4 338.4 290.0C342.2 291.6 340.5 291.5 346.1 292.6C351.7 293.7 349.1 293.9 355.1 293.2C361.1 292.5 358.9 293.2 364.1 290.6C369.3 288.0 367.2 289.3 370.6 285.5C374.0 281.7 372.5 283.2 374.4 279.1C376.3 275.0 374.8 276.1 376.3 273.3C377.8 270.5 376.5 271.9 378.9 270.7C381.3 269.5 380.2 270.3 383.4 269.7C386.6 269.1 385.4 269.1 388.6 268.8C391.8 268.5 391.5 268.8 393.0 268.8L392.6 254.1L278.5 254.1Z" fill="#fff"/><ellipse cx="287.0" cy="272.5" rx="4.0" ry="3.6" fill="#000"/><ellipse cx="384.5" cy="272.0" rx="3.6" ry="3.0" fill="#000"/></mask>
<g clip-path="url(#c6)">
<rect x="282.5" y="258.1" width="106.1" height="56.3" fill="#fff"/>
<path d="M294.7 271.4C295.6 273.1 295.4 273.1 297.3 276.5C299.2 279.9 297.9 278.2 300.5 281.6C303.1 285.0 301.4 283.6 305.0 286.8C308.6 290.0 307.1 289.5 311.4 291.3C315.7 293.1 313.5 292.5 317.8 292.3C322.1 292.1 320.4 291.9 324.3 290.6C328.2 289.3 327.7 289.1 329.4 288.4" fill="none" stroke="#fff9a8" stroke-width="9.0" stroke-linecap="round" filter="url(#b4)"/>
<path d="M294.7 271.4C295.6 273.1 295.4 273.1 297.3 276.5C299.2 279.9 297.9 278.2 300.5 281.6C303.1 285.0 301.4 283.6 305.0 286.8C308.6 290.0 307.1 289.5 311.4 291.3C315.7 293.1 313.5 292.5 317.8 292.3C322.1 292.1 320.4 291.9 324.3 290.6C328.2 289.3 327.7 289.1 329.4 288.4" fill="none" stroke="#ffee45" stroke-width="5" stroke-linecap="round" filter="url(#b1)"/>
<ellipse cx="288" cy="275" rx="5.4" ry="5.6" fill="#fffef6" stroke="#ffe85a" stroke-width="1.1" filter="url(#b3)"/><ellipse cx="384.8" cy="275" rx="4.6" ry="4.6" fill="#fffef6" stroke="#ffe85a" stroke-width="1" filter="url(#b3)"/>
<g filter="url(#glow)"><rect x="276.5" y="252.1" width="118.1" height="68.3" fill="#575757" mask="url(#m6)"/></g>
<g mask="url(#m6)">
<path d="M294.7 271.4C295.6 273.1 295.4 273.1 297.3 276.5C299.2 279.9 297.9 278.2 300.5 281.6C303.1 285.0 301.4 283.6 305.0 286.8C308.6 290.0 307.1 289.5 311.4 291.3C315.7 293.1 313.5 292.5 317.8 292.3C322.1 292.1 320.4 291.9 324.3 290.6C328.2 289.3 327.7 289.1 329.4 288.4" fill="none" stroke="#9a4040" stroke-opacity=".8" stroke-width="9.1" stroke-linecap="round" filter="url(#b1)"/>
<path d="M294.7 271.4C295.6 273.1 295.4 273.1 297.3 276.5C299.2 279.9 297.9 278.2 300.5 281.6C303.1 285.0 301.4 283.6 305.0 286.8C308.6 290.0 307.1 289.5 311.4 291.3C315.7 293.1 313.5 292.5 317.8 292.3C322.1 292.1 320.4 291.9 324.3 290.6C328.2 289.3 327.7 289.1 329.4 288.4" fill="none" stroke="#b03a3a" stroke-width="3.8500000000000005" stroke-linecap="round" filter="url(#b2)"/>

</g>
<ellipse cx="285.7" cy="276.1" rx="2.5" ry="1.8" fill="#4a3a38" stroke="#c9782c" stroke-width=".6"/>
<ellipse cx="386.6" cy="277.1" rx="2.2" ry="1.2" fill="#4a3a38" stroke="#c9782c" stroke-width=".6"/>
<circle cx="377" cy="275.8" r=".8" fill="#c0392b"/>
</g>
<rect x="207.2" y="257.5" width="75.3" height="56.9" fill="#e0e0e0"/>
<circle cx="263.5" cy="265.6" r="0.50" fill="#3a3a3a" fill-opacity=".75"/>
<circle cx="220.6" cy="278.4" r="0.55" fill="#3a3a3a" fill-opacity=".75"/>
<circle cx="258.0" cy="277.2" r="0.40" fill="#3a3a3a" fill-opacity=".75"/>
<circle cx="221.3" cy="277.8" r="0.30" fill="#3a3a3a" fill-opacity=".75"/>
<text text-anchor="end" style="font-size:7.3px" x="282.0" y="263.6">0.13</text>
<rect x="258.0" y="301.0" width="24.5" height="13.4" fill="#f4f4f4" stroke="#444" stroke-width=".7"/>
<text text-anchor="middle" style="font-size:8px" x="270.2" y="308.6">200µm</text>
<path d="M263.8 312.2H277.0" stroke="#000" stroke-width="1.5"/>
<text class="wt" style="font-size:8.5px" x="321.7" y="283.3">D = 2L<tspan dy="1.5" font-size="5">T</tspan></text>
<text class="sm" style="font-size:8.2px" x="300.4" y="301.7">H150 µm</text>
<text class="sm" style="font-size:8.2px" x="300.4" y="311.0">V1300 mm/s</text>
<rect x="356.4" y="300.9" width="32.1" height="13.5" fill="#fff" stroke="#444" stroke-width=".7"/>
<text text-anchor="middle" style="font-size:8px" x="372.4" y="308.0">100 µm</text>
<path d="M362.4 311.8H382.0" stroke="#000" stroke-width="1.5"/>
<path d="M173.7 58.6H281M173 135.1H280M131.6 256.9H238.6" stroke="#b8b8b8" stroke-width=".7"/>
<path d="M105.80 64.75L110.85 64.75M113.45 64.75L118.50 64.75M117.65 63.90L117.65 68.85M117.65 71.45L117.65 76.40M118.50 75.55L113.45 75.55M110.85 75.55L105.80 75.55M106.65 76.40L106.65 71.45M106.65 68.85L106.65 63.90" fill="none" stroke="#f20d14" stroke-width="1.7"/>
<rect x="109.1" y="67.9" width="6.2" height="6.2" fill="#000"/>
<path d="M112.0 64.0L112.0 56.9" stroke="#f20d14" stroke-width="1.7"/>
<path d="M112.0 48.6L114.9 57.9L109.1 57.9Z" fill="#f20d14"/>
<path d="M83.40 84.25L88.40 84.25M91.00 84.25L96.00 84.25M95.15 83.40L95.15 88.00M95.15 90.60L95.15 95.20M96.00 94.35L91.00 94.35M88.40 94.35L83.40 94.35M84.25 95.20L84.25 90.60M84.25 88.00L84.25 83.40" fill="none" stroke="#f20d14" stroke-width="1.7"/>
<rect x="86.6" y="86.2" width="6.2" height="6.2" fill="#000"/>
<path d="M96.0 89.4L103.7 89.4" stroke="#f20d14" stroke-width="1.7"/>
<path d="M112.0 89.4L102.7 92.1L102.7 86.7Z" fill="#f20d14"/>
<path d="M361.40 86.55L366.90 86.55M369.50 86.55L375.00 86.55M374.15 85.70L374.15 90.30M374.15 92.90L374.15 97.50M375.00 96.65L369.50 96.65M366.90 96.65L361.40 96.65M362.25 97.50L362.25 92.90M362.25 90.30L362.25 85.70" fill="none" stroke="#f20d14" stroke-width="1.7"/>
<rect x="364.6" y="88.8" width="6.2" height="6.2" fill="#000"/>
<path d="M368.4 86.0L368.4 77.3" stroke="#f20d14" stroke-width="1.7"/>
<path d="M368.4 69.5L371.4 78.3L365.4 78.3Z" fill="#f20d14"/>
<path d="M293.10 104.05L298.35 104.05M300.95 104.05L306.20 104.05M305.35 103.20L305.35 108.20M305.35 110.80L305.35 115.80M306.20 114.95L300.95 114.95M298.35 114.95L293.10 114.95M293.95 115.80L293.95 110.80M293.95 108.20L293.95 103.20" fill="none" stroke="#f20d14" stroke-width="1.7"/>
<rect x="296.4" y="107.0" width="6.2" height="6.2" fill="#000"/>
<path d="M299.7 115.5L299.7 135.5" stroke="#f20d14" stroke-width="1.7"/>
<path d="M299.7 143.8L296.7 134.5L302.7 134.5Z" fill="#f20d14"/>
<path d="M127.40 188.05L132.20 188.05M134.80 188.05L139.60 188.05M138.75 187.20L138.75 191.60M138.75 194.20L138.75 198.60M139.60 197.75L134.80 197.75M132.20 197.75L127.40 197.75M128.25 198.60L128.25 194.20M128.25 191.60L128.25 187.20" fill="none" stroke="#f20d14" stroke-width="1.7"/>
<rect x="130.3" y="190.7" width="6.2" height="6.2" fill="#000"/>
<path d="M133.6 198.0L133.6 205.5" stroke="#f20d14" stroke-width="1.7"/>
<path d="M133.6 212.5L131.1 204.5L136.1 204.5Z" fill="#f20d14"/>
<path d="M190.80 285.55L195.95 285.55M198.55 285.55L203.70 285.55M202.85 284.70L202.85 289.60M202.85 292.20L202.85 297.10M203.70 296.25L198.55 296.25M195.95 296.25L190.80 296.25M191.65 297.10L191.65 292.20M191.65 289.60L191.65 284.70" fill="none" stroke="#f20d14" stroke-width="1.7"/>
<rect x="194.0" y="287.8" width="6.2" height="6.2" fill="#000"/>
<path d="M203.5 290.5L211.1 290.5" stroke="#f20d14" stroke-width="1.7"/>
<path d="M218.7 290.5L210.1 293.1L210.1 287.9Z" fill="#f20d14"/>
</svg>
</body></html>
